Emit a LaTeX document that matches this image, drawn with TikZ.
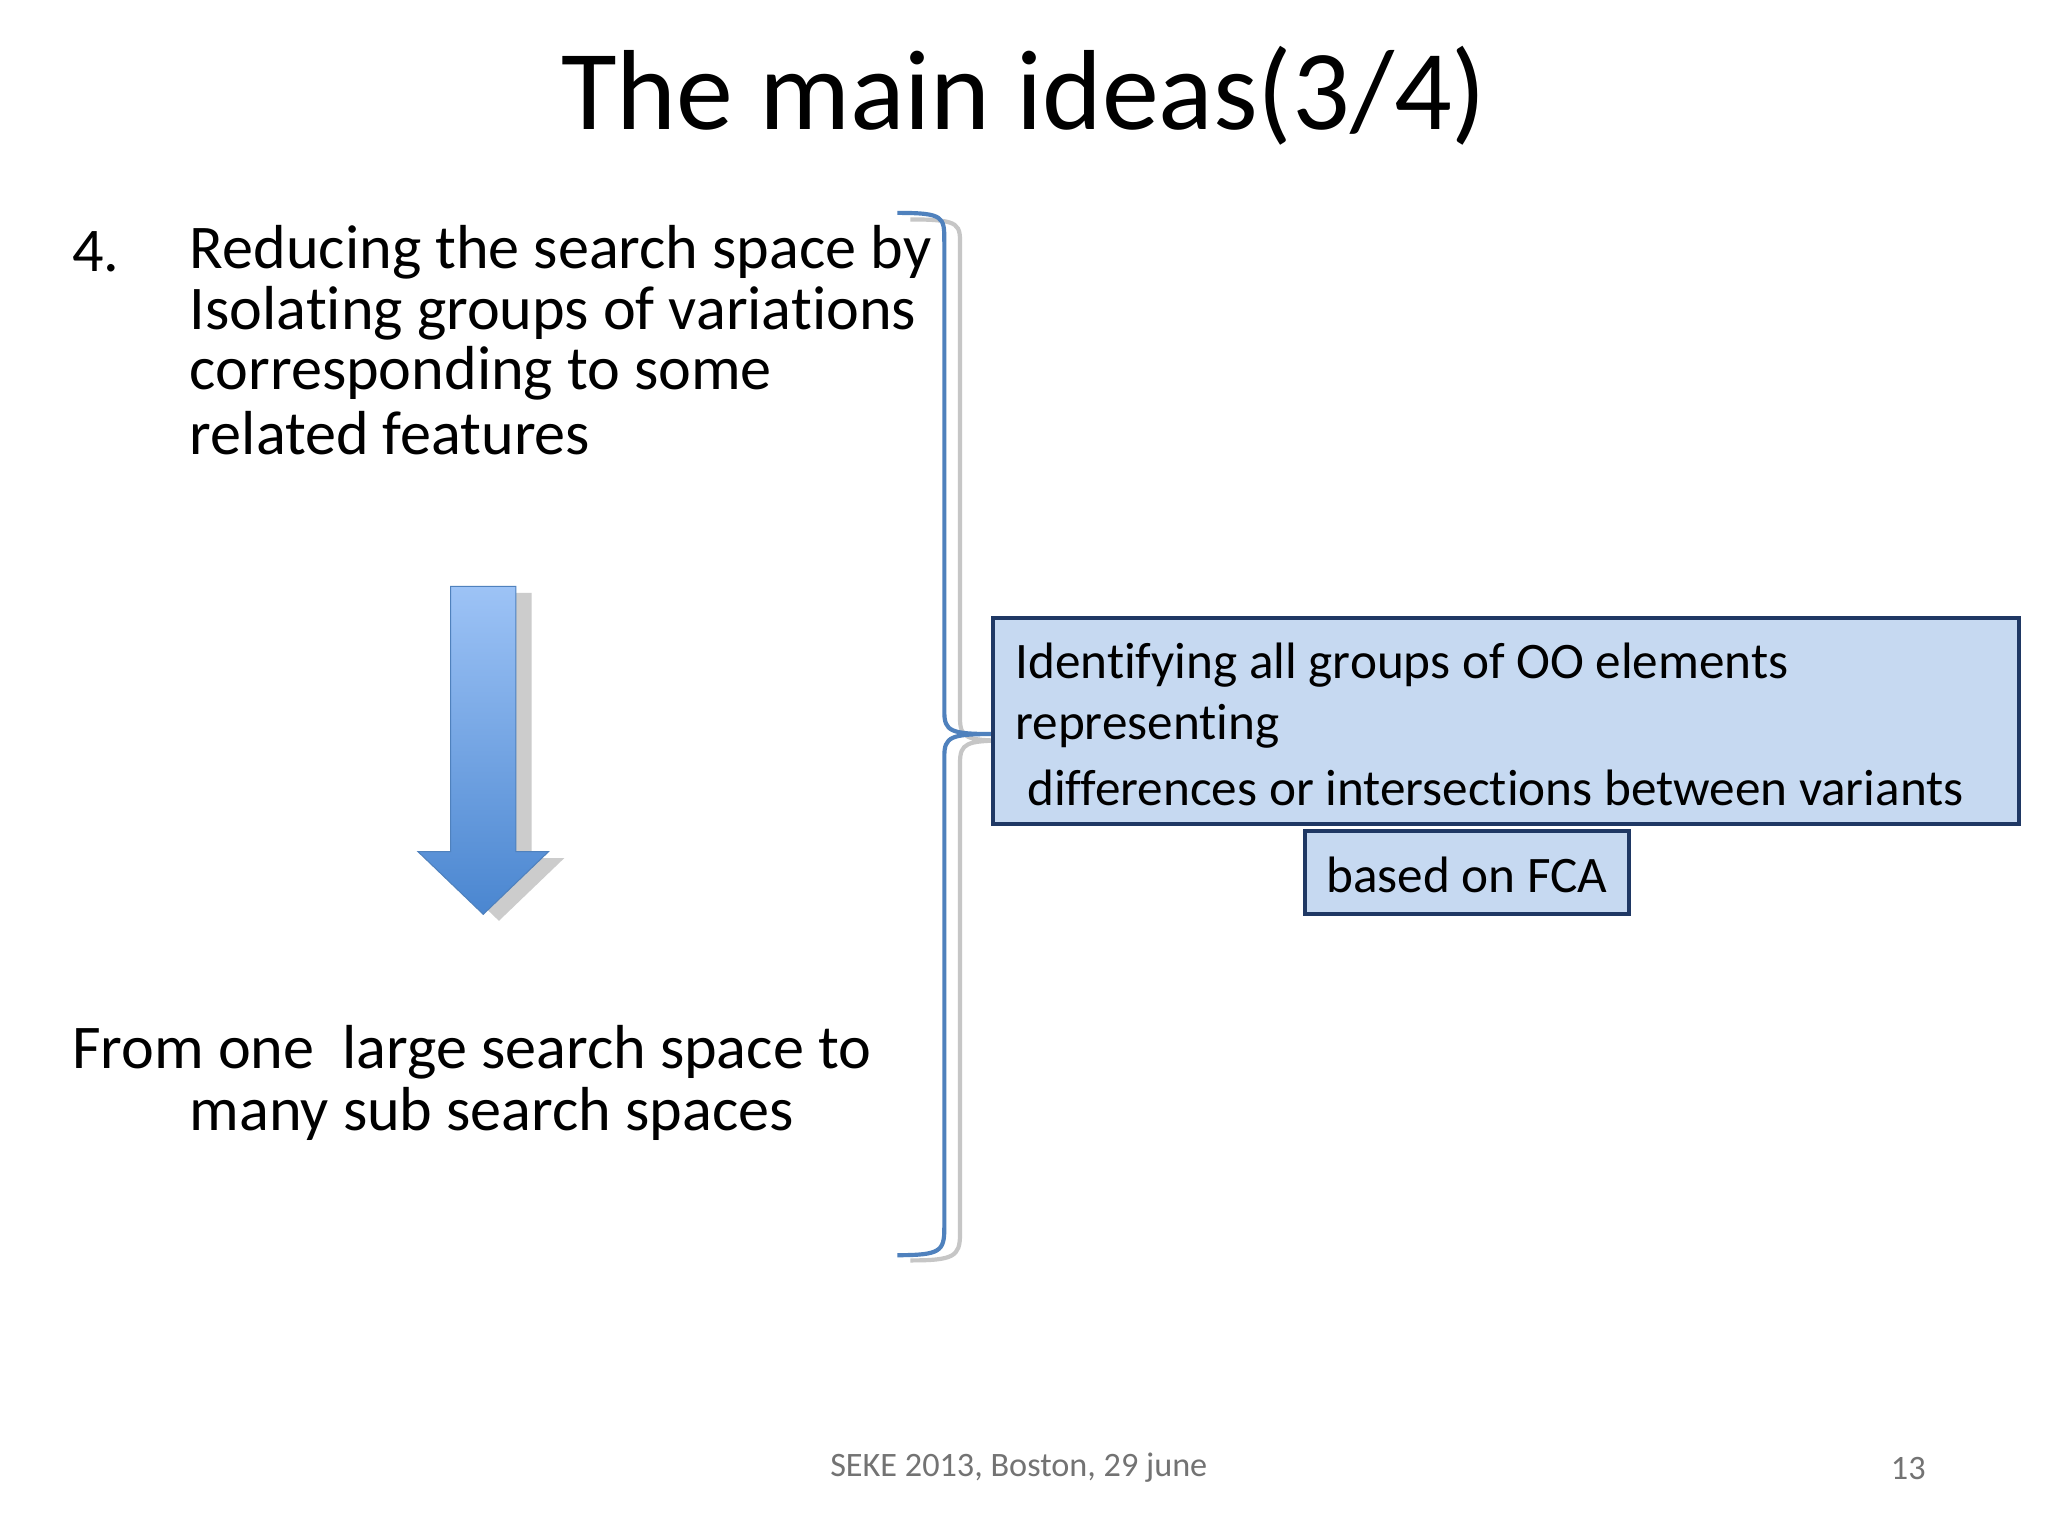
\documentclass[tikz,border=0pt]{standalone}
\usepackage{fontspec}
\setmainfont{Carlito}[Ligatures={NoCommon}]
\definecolor{boxfill}{HTML}{C6D9F1}
\definecolor{boxline}{HTML}{1F3864}
\definecolor{arrtop}{HTML}{9DC3F6}
\definecolor{arrbot}{HTML}{4A86D0}
\definecolor{bracec}{HTML}{4F81BD}
\begin{document}
\begin{tikzpicture}[x=0.5pt,y=-0.5pt,
  body/.style={anchor=west,inner sep=0,font=\fontsize{23.8}{26}\selectfont},
  boxtxt/.style={anchor=west,inner sep=0,font=\fontsize{19.6}{22}\selectfont},
  fbox/.style={draw=boxline,fill=boxfill,line width=1.5pt},
  brace/.style={line width=1.6pt}]
\useasboundingbox (0,0) rectangle (1568,1176);
\fill[white] (0,0) rectangle (1568,1176);
\node[anchor=center,inner sep=0,font=\fontsize{43.6}{48}\selectfont] (title) at (784,73) {The main ideas(3/4)};
\node[body] (n4) at (55,193) {4.};
\node[body] (l1) at (145,193) {Reducing the search space by};
\node[body] (l2) at (145,240) {Isolating groups of variations};
\node[body] (l3) at (145,286) {corresponding to some};
\node[body] (l4) at (145,332) {related features};
\node[body] (f1) at (55,806) {From one\ \ large search space to};
\node[body] (f2) at (145,853) {many sub search spaces};
% arrow shadow
\fill[gray!40] (357,454) -- (407,454) -- (407,657) -- (432,657) -- (382,705) -- (332,657) -- (357,657) -- cycle;
\shade[top color=arrtop,bottom color=arrbot,draw=bracec] (345,449) -- (395,449) -- (395,652) -- (420,652) -- (370,700) -- (320,652) -- (345,652) -- cycle;
% brace shadow
\draw[brace,gray!45] (697,168) .. controls (737,168) and (735,172) .. (735,190) -- (735,550) .. controls (735,565) and (740,567) .. (770,567) .. controls (740,567) and (735,569) .. (735,584) -- (735,945) .. controls (735,962) and (730,965) .. (697,965);
\draw[brace,bracec] (687,163) .. controls (723,163) and (723,166) .. (723,185) -- (723,545) .. controls (723,560) and (728,562) .. (760,562) .. controls (728,562) and (723,564) .. (723,579) -- (723,940) .. controls (723,958) and (720,961) .. (687,961);
\draw[fbox] (760,473) rectangle (1546,631);
\coordinate (b1) at (760,473);
\node[boxtxt] (t1) at (777,509) {Identifying all groups of OO elements};
\node[boxtxt] (t2) at (777,556) {representing};
\node[boxtxt] (t3) at (786,603) {differences or intersections between variants};
\draw[fbox] (999,636) rectangle (1247,700);
\node[boxtxt,anchor=center] (t4) at (1123,670) {based on FCA};
\node[inner sep=0,font=\fontsize{13.1}{15}\selectfont,text=black!55] (foot) at (780,1124) {SEKE 2013, Boston, 29 june};
\node[inner sep=0,font=\fontsize{13.1}{15}\selectfont,text=black!55] (num) at (1461,1124) {13};
\end{tikzpicture}
\end{document}
